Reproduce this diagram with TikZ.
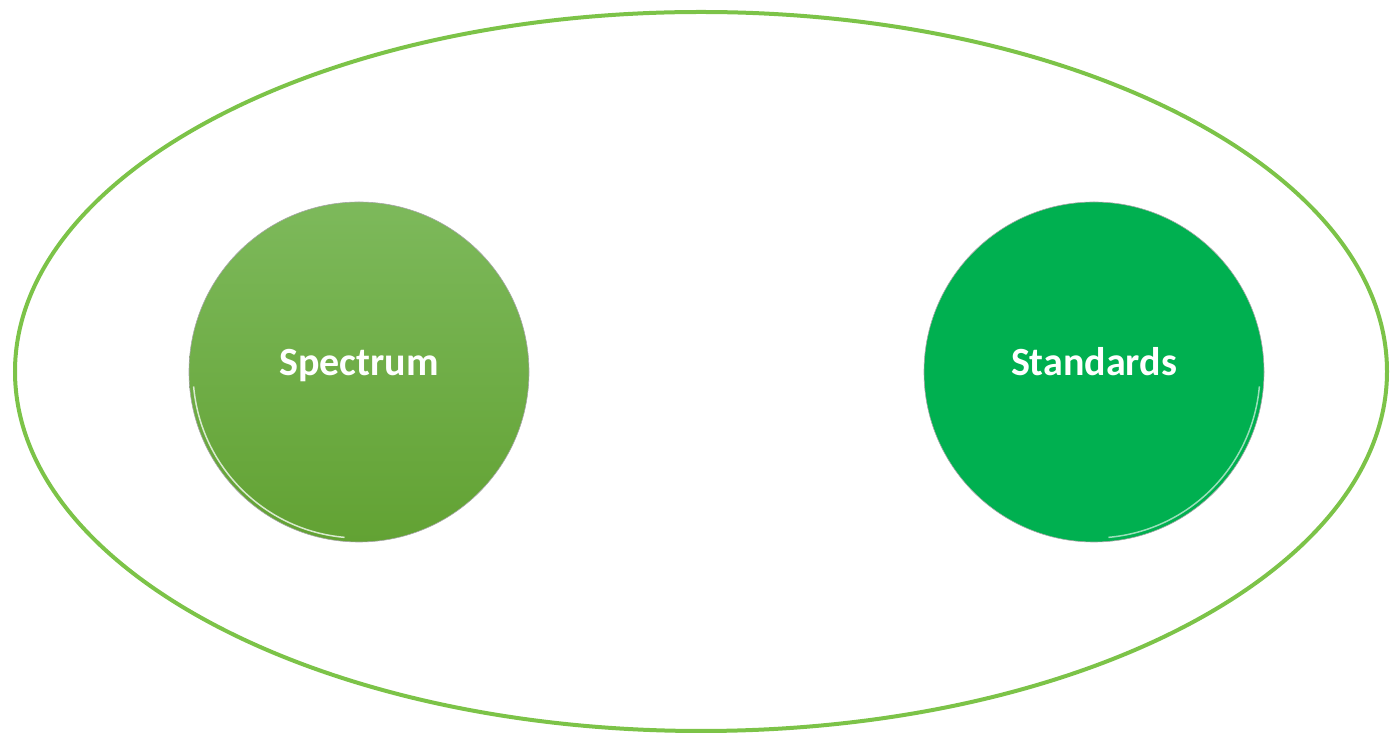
\documentclass[tikz,border=0pt]{standalone}
\usepackage{fontspec}
\setmainfont{Carlito}
\usetikzlibrary{shapes.geometric}

\definecolor{rimgreen}{HTML}{7CC348}
\definecolor{spectop}{HTML}{7DB95B}
\definecolor{specbot}{HTML}{62A233}
\definecolor{stdgreen}{HTML}{00B050}

\tikzset{
  bubble/.style={circle, minimum size=340pt, inner sep=0pt,
    draw=black!35, line width=0.6pt, text=white,
    text height=30pt, text depth=22pt,
    font=\fontsize{40}{46}\selectfont\bfseries},
}

\begin{document}
\begin{tikzpicture}

  \newcommand\X{1pt};
  \newcommand\Y{1pt};

  \useasboundingbox (0*\X, 0*\Y) rectangle (1390*\X, 736*\Y);

  % outer ring
  \node[ellipse, draw=rimgreen, line width=4pt, minimum width=1372pt,
    minimum height=719pt, inner sep=0pt] (ring) at (701*\X, 364.5*\Y) {};

  \node[bubble, top color=spectop, bottom color=specbot] (spectrum)
    at (359*\X, 364*\Y) {Spectrum};
  \node[bubble, fill=stdgreen] (standards)
    at (1094*\X, 364*\Y) {Standards};

  % light rims on the lower edges
  \draw[white!70!spectop, line width=1.5pt]
    (spectrum.center) ++(-95:166pt) arc[start angle=-95, end angle=-175, radius=166pt];
  \draw[white!60!stdgreen, line width=1.5pt]
    (standards.center) ++(-85:166pt) arc[start angle=-85, end angle=-5, radius=166pt];
\end{tikzpicture}
\end{document}
